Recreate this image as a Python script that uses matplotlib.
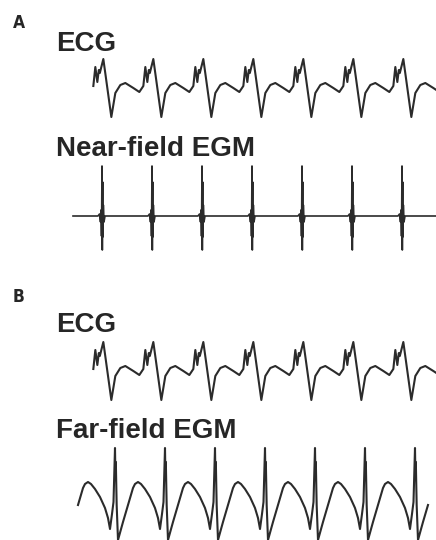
import matplotlib
matplotlib.use('Agg')
import numpy as np
import matplotlib.pyplot as plt

# figure geometry: 436 x 540 px, time scale 6 ms per px, 20 px per mV
W, H, DPI = 436, 540, 100
MS_PER_PX = 6.0
PX_PER_MV = 20.0

# surface ECG beat, offsets from R peak (ms) and amplitude (mV)
ecg_beat_ms = [-84, -60, -48, -36, -27, -21, 0, 48, 72, 102, 132, 180]
ecg_beat_mv = [-0.35, -0.05, 0.90, 0.15, 0.75, 0.60, 1.30, -1.60, -0.40, 0.00, 0.10, -0.15]
ecg_r_times = [620, 920, 1220, 1520, 1820, 2120, 2420, 2720]

# near-field bipolar EGM: sharp local spike on a flat baseline
near_spike_ms = [-24, -15, -9, -6, -3, 0, 2, 4, 5, 8, 12, 18]
near_spike_mv = [0.0, 0.1, -0.3, 0.3, -1.0, 2.5, -1.7, 1.7, -1.05, 0.55, -0.3, 0.0]
near_times = [612, 912, 1212, 1512, 1812, 2112, 2412]

# far-field EGM: spike followed by a slow rounded wave
far_beat_ms = [-30, -18, -9, 0, 3, 5, 10, 18, 48, 78, 108, 120, 138, 156, 180, 210, 240, 258]
far_beat_mv = [-1.45, -0.7, -0.1, 2.6, 1.0, 1.9, -0.25, -2.0, -1.1, -0.25, 0.6, 0.8,
               0.9, 0.8, 0.55, 0.15, -0.4, -0.9]
far_times = [390, 690, 990, 1290, 1590, 1890, 2190, 2490]

LINE = '#2b2b2b'
TEXT = '#262626'


def build(times, offs, vals, t_start, t_end):
    t, v = [], []
    for c in times:
        for o, a in zip(offs, vals):
            if t_start <= c + o <= t_end:
                t.append(c + o)
                v.append(a)
    return np.array(t), np.array(v)


def trace_axes(fig, top_px, bottom_px, zero_px):
    ax = fig.add_axes([0, 1 - bottom_px / H, 1, (bottom_px - top_px) / H])
    ax.set_xlim(0, W * MS_PER_PX)
    ax.set_ylim((zero_px - bottom_px) / PX_PER_MV, (zero_px - top_px) / PX_PER_MV)
    ax.axis('off')
    return ax


fig = plt.figure(figsize=(W / DPI, H / DPI), dpi=DPI)
fig.patch.set_facecolor('white')

# A: ECG
ax = trace_axes(fig, 52, 125, 85)
t, v = build(ecg_r_times, ecg_beat_ms, ecg_beat_mv, 546, 2700)
ax.plot(t, v, color=LINE, lw=1.5, solid_joinstyle='round')

# A: near-field EGM
ax = trace_axes(fig, 160, 258, 216)
t, v = build(near_times, near_spike_ms, near_spike_mv, 0, 9999)
t = np.concatenate([[438], t, [W * MS_PER_PX]])
v = np.concatenate([[0.0], v, [0.0]])
ax.plot(t, v, color=LINE, lw=1.2, solid_joinstyle='round')

# B: ECG
ax = trace_axes(fig, 335, 408, 368)
t, v = build(ecg_r_times, ecg_beat_ms, ecg_beat_mv, 546, 2700)
ax.plot(t, v, color=LINE, lw=1.5, solid_joinstyle='round')

# B: far-field EGM
ax = trace_axes(fig, 440, 540, 500)
t, v = build(far_times, far_beat_ms, far_beat_mv, 465, 2575)
ax.plot(t, v, color=LINE, lw=1.5, solid_joinstyle='round')

# panel letters and trace titles
letter_font = dict(family='DejaVu Sans', fontstretch='condensed', weight='bold',
                   fontsize=12.5, color=TEXT)
title_font = dict(family=['Liberation Sans', 'DejaVu Sans'], weight='bold',
                  fontsize=20, color=TEXT)

fig.text(13 / W, 1 - 28 / H, 'A', va='baseline', ha='left', **letter_font)
fig.text(56 / W, 1 - 51 / H, 'ECG', va='baseline', ha='left', **title_font)
fig.text(56 / W, 1 - 156 / H, 'Near-field EGM', va='baseline', ha='left', **title_font)
fig.text(13 / W, 1 - 302 / H, 'B', va='baseline', ha='left', **letter_font)
fig.text(56 / W, 1 - 332 / H, 'ECG', va='baseline', ha='left', **title_font)
fig.text(56 / W, 1 - 438 / H, 'Far-field EGM', va='baseline', ha='left', **title_font)

fig.savefig('out.png', dpi=DPI, facecolor='white')
